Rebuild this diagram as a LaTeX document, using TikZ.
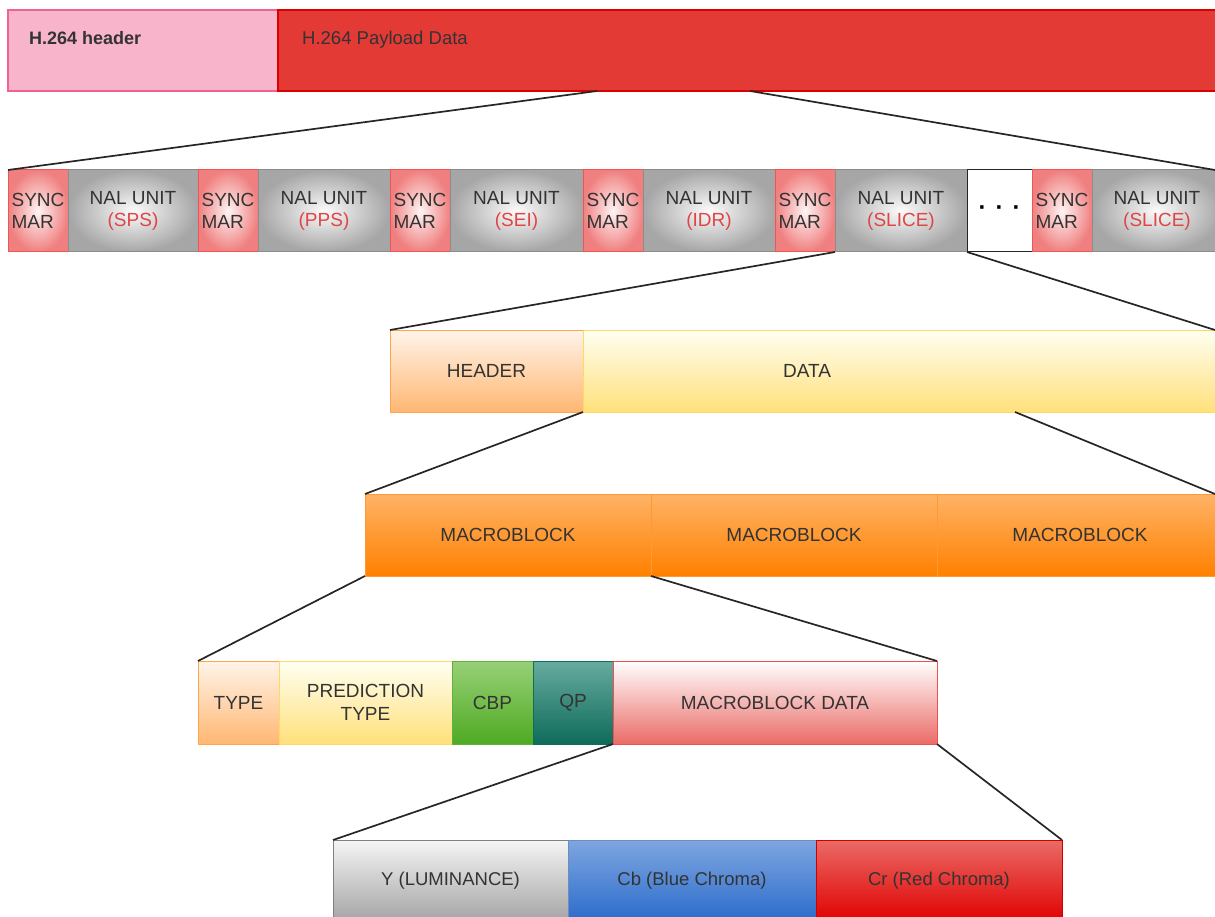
\documentclass[tikz,border=0pt]{standalone}
\usepackage{fontspec}
\setmainfont{Liberation Sans}
\definecolor{txt}{HTML}{333333}
\definecolor{linec}{HTML}{262626}
\definecolor{hdrpink}{HTML}{F8B4CB}
\definecolor{hdrpinkb}{HTML}{F06292}
\definecolor{payred}{HTML}{E33A36}
\definecolor{payredb}{HTML}{D80000}
\definecolor{syncin}{HTML}{FFF4F4}
\definecolor{syncout}{HTML}{F08080}
\definecolor{syncb}{HTML}{F05555}
\definecolor{nalin}{HTML}{FBFBFB}
\definecolor{nalout}{HTML}{A6A6A6}
\definecolor{nalb}{HTML}{8C8C8C}
\definecolor{nalred}{HTML}{E04545}
\definecolor{hdrtop}{HTML}{FFF4EA}
\definecolor{hdrbot}{HTML}{FFB772}
\definecolor{hdrb}{HTML}{FFA64D}
\definecolor{datatop}{HTML}{FFFFF2}
\definecolor{databot}{HTML}{FFE07A}
\definecolor{datab}{HTML}{FFD966}
\definecolor{mbtop}{HTML}{FFB366}
\definecolor{mbbot}{HTML}{FF8000}
\definecolor{mbb}{HTML}{FF9A33}
\definecolor{cbptop}{HTML}{97D077}
\definecolor{cbpbot}{HTML}{4FAA22}
\definecolor{cbpb}{HTML}{60B040}
\definecolor{qptop}{HTML}{67AB9F}
\definecolor{qpbot}{HTML}{0E6B5A}
\definecolor{qpb}{HTML}{0E6E5B}
\definecolor{mbdtop}{HTML}{FFFFFF}
\definecolor{mbdbot}{HTML}{EA6B66}
\definecolor{mbdb}{HTML}{F05050}
\definecolor{ytop}{HTML}{F5F5F5}
\definecolor{ybot}{HTML}{A3A3A3}
\definecolor{yb}{HTML}{808080}
\definecolor{cbtop}{HTML}{7EA6E0}
\definecolor{cbbot}{HTML}{2B6BCB}
\definecolor{cbb}{HTML}{6C8EBF}
\definecolor{crtop}{HTML}{EA6B66}
\definecolor{crbot}{HTML}{E00000}
\definecolor{crb}{HTML}{D00000}
\tikzset{
  cell/.style={rectangle, inner sep=0pt, outer sep=0pt, anchor=north west,
    text=txt, font=\fontsize{19}{22.5}\selectfont, align=center, line width=1pt},
  syncbox/.style={cell, minimum width=60pt, minimum height=82pt,
    inner color=syncin, outer color=syncout, draw=syncb, align=left},
  nalbox/.style={cell, minimum height=82pt,
    inner color=nalin, outer color=nalout, draw=nalb},
  grad/.style n args={3}{top color=#1, bottom color=#2, draw=#3},
  conn/.style={draw=linec, line width=1.7pt},
  label19/.style={text=txt, font=\fontsize{19}{22}\selectfont, inner sep=0pt},
}
\begin{document}
\begin{tikzpicture}[x=1pt,y=-1pt]
\useasboundingbox (0,0) rectangle (1215,917);
\clip (0,0) rectangle (1215,917);
% row 1
\node[cell, minimum width=270pt, minimum height=81pt, fill=hdrpink, draw=hdrpinkb, line width=1.3pt] (hdr264) at (8,10) {};
\node[cell, minimum width=950pt, minimum height=81pt, fill=payred, draw=payredb, line width=1.3pt] (payload) at (278,10) {};
\node[anchor=base west, text=txt, inner sep=0pt, font=\fontsize{18}{20}\selectfont\bfseries] (hdrtxt) at (29,45) {H.264 header};
\node[anchor=base west, text=txt, inner sep=0pt, font=\fontsize{18.5}{20}\selectfont] (paytxt) at (302,45) {H.264 Payload Data};
% row 2
\node[syncbox] (sync1) at (8,170) {SYNC\\MAR};
\node[nalbox, minimum width=130pt] (nal1) at (68,170) {NAL UNIT\\\textcolor{nalred}{(SPS)}};
\node[syncbox] (sync2) at (198,170) {SYNC\\MAR};
\node[nalbox, minimum width=132pt] (nal2) at (258,170) {NAL UNIT\\\textcolor{nalred}{(PPS)}};
\node[syncbox] (sync3) at (390,170) {SYNC\\MAR};
\node[nalbox, minimum width=133pt] (nal3) at (450,170) {NAL UNIT\\\textcolor{nalred}{(SEI)}};
\node[syncbox] (sync4) at (583,170) {SYNC\\MAR};
\node[nalbox, minimum width=132pt] (nal4) at (643,170) {NAL UNIT\\\textcolor{nalred}{(IDR)}};
\node[syncbox] (sync5) at (775,170) {SYNC\\MAR};
\node[nalbox, minimum width=132pt] (nal5) at (835,170) {NAL UNIT\\\textcolor{nalred}{(SLICE)}};
\node[cell, minimum width=65pt, minimum height=82pt, fill=white, draw=linec, text=black,
  font=\fontsize{24}{24}\selectfont\bfseries] (dots) at (967,170) {·\hspace{9pt}·\hspace{9pt}·};
\node[syncbox] (sync6) at (1032,170) {SYNC\\MAR};
\node[nalbox, minimum width=130pt] (nal6) at (1092,170) {NAL UNIT\\\textcolor{nalred}{(SLICE)}};
% row 3
\node[cell, minimum width=193pt, minimum height=82pt, grad={hdrtop}{hdrbot}{hdrb}] (slhdr) at (390,330) {HEADER};
\node[cell, minimum width=645pt, minimum height=82pt, grad={datatop}{databot}{datab}] (data) at (583,330) {};
\node[label19] (datatxt) at (807,371) {DATA};
% row 4
\node[cell, minimum width=286pt, minimum height=82pt, grad={mbtop}{mbbot}{mbb}] (mb1) at (365,494) {MACROBLOCK};
\node[cell, minimum width=286pt, minimum height=82pt, grad={mbtop}{mbbot}{mbb}] (mb2) at (651,494) {MACROBLOCK};
\node[cell, minimum width=286pt, minimum height=82pt, grad={mbtop}{mbbot}{mbb}] (mb3) at (937,494) {MACROBLOCK};
% row 5
\node[cell, minimum width=81pt, minimum height=83pt, grad={hdrtop}{hdrbot}{hdrb}] (type) at (198,661) {TYPE};
\node[cell, minimum width=173pt, minimum height=83pt, grad={datatop}{databot}{datab}] (pred) at (279,661) {PREDICTION\\TYPE};
\node[cell, minimum width=81pt, minimum height=83pt, grad={cbptop}{cbpbot}{cbpb}] (cbp) at (452,661) {CBP};
\node[cell, minimum width=80pt, minimum height=83pt, grad={qptop}{qpbot}{qpb}] (qp) at (533,661) {QP};
\node[cell, minimum width=324pt, minimum height=83pt, grad={mbdtop}{mbdbot}{mbdb}] (mbdata) at (613,661) {MACROBLOCK DATA};
% row 6
\node[cell, minimum width=235pt, minimum height=82pt, grad={ytop}{ybot}{yb}, font=\fontsize{18.5}{22}\selectfont] (ylum) at (333,840) {Y (LUMINANCE)};
\node[cell, minimum width=248pt, minimum height=82pt, grad={cbtop}{cbbot}{cbb}, font=\fontsize{18.5}{22}\selectfont] (cbch) at (568,840) {Cb (Blue Chroma)};
\node[cell, minimum width=246pt, minimum height=82pt, grad={crtop}{crbot}{crb}, font=\fontsize{18.5}{22}\selectfont] (crch) at (816,840) {Cr (Red Chroma)};
% anchor points on edges
\coordinate (plL) at ([xshift=319pt]payload.south west);
\coordinate (plR) at ([xshift=472pt]payload.south west);
\coordinate (nal6R) at ([xshift=123pt]nal6.north west);
\coordinate (dataR) at ([xshift=632pt]data.north west);
\coordinate (dataB) at ([xshift=432pt]data.south west);
\coordinate (mb3R) at ([xshift=278pt]mb3.north west);
% connectors
\draw[conn] (plL) -- (sync1.north west);
\draw[conn] (plR) -- (nal6R);
\draw[conn] (nal5.south west) -- (slhdr.north west);
\draw[conn] (dots.south west) -- (dataR);
\draw[conn] (slhdr.south east) -- (mb1.north west);
\draw[conn] (dataB) -- (mb3R);
\draw[conn] (mb1.south west) -- (type.north west);
\draw[conn] (mb1.south east) -- (mbdata.north east);
\draw[conn] (mbdata.south west) -- (ylum.north west);
\draw[conn] (mbdata.south east) -- (crch.north east);
\end{tikzpicture}
\end{document}
